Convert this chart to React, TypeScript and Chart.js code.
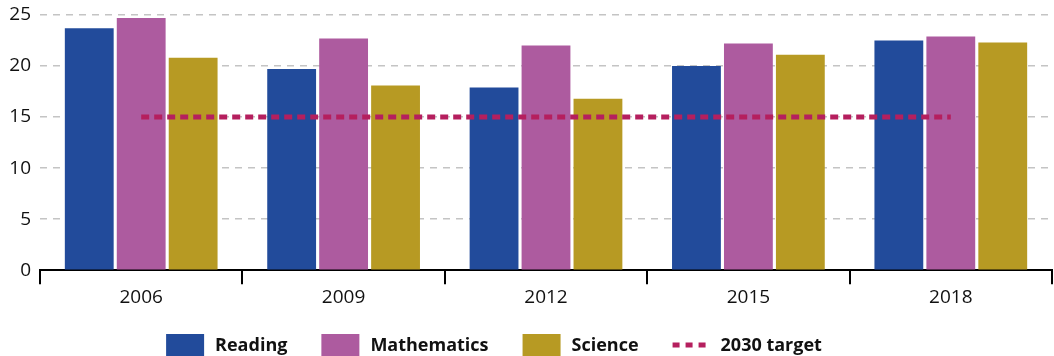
import React, { useEffect, useRef } from "react";
import { Chart, registerables } from "chart.js";

Chart.register(...registerables);

// ---- Data ----
const categories = ["2006", "2009", "2012", "2015", "2018"];
const reading = [23.7, 19.7, 17.9, 20.0, 22.5];
const mathematics = [24.7, 22.7, 22.0, 22.2, 22.9];
const science = [20.8, 18.1, 16.8, 21.1, 22.3];
const target2030 = [15, 15, 15, 15, 15];
const seriesNames = ["Reading", "Mathematics", "Science", "2030 target"];
const yMin = 0;
const yMax = 25;
const yStep = 5;

// ---- Styles ----
const FONT = "'Open Sans', 'Noto Sans', sans-serif";
const COLORS = ["#224b9b", "#ad5b9f", "#b79a23", "#b51f5e"];
const W = 1054;
const H = 356;

const legendPlugin = {
  id: "customLegend",
  afterDraw(chart: any) {
    const ctx = chart.ctx as CanvasRenderingContext2D;
    ctx.save();
    ctx.font = `bold 18px ${FONT}`;
    ctx.textBaseline = "middle";
    ctx.textAlign = "left";
    const y = 345;
    const items = seriesNames.map((name, i) => {
      const isLine = i === 3;
      const symW = isLine ? 34 : 38;
      const gap = isLine ? 14 : 11;
      const tw = ctx.measureText(name).width;
      return { name, i, isLine, symW, gap, tw, w: symW + gap + tw };
    });
    const spacing = 34;
    const total = items.reduce((s, it) => s + it.w, 0) + spacing * (items.length - 1);
    let x = 494 - total / 2;
    for (const it of items) {
      if (it.isLine) {
        ctx.strokeStyle = COLORS[it.i];
        ctx.lineWidth = 5;
        ctx.setLineDash([7, 6]);
        ctx.beginPath();
        ctx.moveTo(x, y);
        ctx.lineTo(x + it.symW, y);
        ctx.stroke();
        ctx.setLineDash([]);
      } else {
        ctx.fillStyle = COLORS[it.i];
        ctx.fillRect(x, y - 11, it.symW, 22);
      }
      ctx.fillStyle = "#111";
      ctx.fillText(it.name, x + it.symW + it.gap, y + 1);
      x += it.w + spacing;
    }
    ctx.restore();
  },
};

export default function App() {
  const ref = useRef<HTMLCanvasElement | null>(null);

  useEffect(() => {
    if (!ref.current) return;
    const barDs = (label: string, data: number[], color: string) => ({
      type: "bar" as const,
      label,
      data,
      backgroundColor: color,
      borderWidth: 0,
      categoryPercentage: 0.77,
      barPercentage: 0.94,
      order: 1,
    });
    const chart = new Chart(ref.current, {
      type: "bar",
      data: {
        labels: categories,
        datasets: [
          barDs(seriesNames[0], reading, COLORS[0]),
          barDs(seriesNames[1], mathematics, COLORS[1]),
          barDs(seriesNames[2], science, COLORS[2]),
          {
            type: "line" as const,
            label: seriesNames[3],
            data: target2030,
            borderColor: COLORS[3],
            borderWidth: 5,
            borderDash: [8, 5],
            pointRadius: 0,
            fill: false,
            order: 0,
          } as any,
        ],
      },
      options: {
        animation: false,
        responsive: false,
        devicePixelRatio: 1,
        layout: { padding: { top: 0, right: 2, left: 0, bottom: 45 } },
        plugins: {
          legend: { display: false },
          tooltip: { enabled: false },
        },
        scales: {
          x: {
            offset: true,
            grid: {
              display: true,
              offset: true,
              drawOnChartArea: false,
              drawTicks: true,
              tickLength: 14,
              color: "#000",
              lineWidth: 2,
            },
            border: { display: true, color: "#000", width: 2 },
            ticks: { color: "#111", font: { family: FONT, size: 19 }, padding: 2 },
          },
          y: {
            min: yMin,
            max: yMax,
            afterFit: (scale: any) => {
              scale.width = 40;
              scale.paddingTop = 15;
            },
            ticks: { stepSize: yStep, color: "#111", font: { family: FONT, size: 19 }, padding: 9 },
            grid: { color: "#c4c4c4", lineWidth: 1.5, drawTicks: false },
            border: { display: false, dash: [7, 6] },
          },
        },
      },
      plugins: [legendPlugin],
    });
    return () => chart.destroy();
  }, []);

  return (
    <div style={{ position: "fixed", left: 0, top: 0, width: W, height: H, background: "#fff" }}>
      <canvas ref={ref} width={W} height={H} style={{ display: "block", width: W, height: H }} />
    </div>
  );
}
